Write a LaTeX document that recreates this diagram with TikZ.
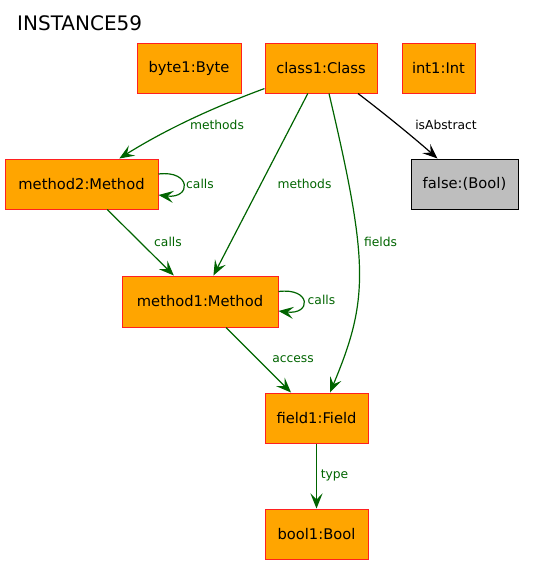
\documentclass[tikz,border=0pt]{standalone}
\usepackage{fontspec}
\setmainfont{DejaVu Sans}
\usetikzlibrary{arrows.meta}
\definecolor{nodeorange}{HTML}{FFA500}
\definecolor{nodered}{HTML}{FF2020}
\definecolor{edgegreen}{HTML}{006400}
\definecolor{boolgray}{HTML}{BEBEBE}
\tikzset{
  obj/.style={draw=nodered, fill=nodeorange, line width=1pt, inner sep=0pt,
    font=\fontsize{14.7}{16}\selectfont, text=black},
  val/.style={draw=black, fill=boolgray, line width=1pt, inner sep=0pt,
    font=\fontsize{14.7}{16}\selectfont, text=black},
  edge/.style={draw=edgegreen, line width=1.2pt,
    -{Stealth[length=15pt,width=12pt,inset=6pt]}},
  blackedge/.style={draw=black, line width=1.2pt,
    -{Stealth[length=15pt,width=12pt,inset=6pt]}},
  lbl/.style={font=\fontsize{12.3}{14}\selectfont, text=edgegreen, inner sep=0pt},
  blbl/.style={font=\fontsize{12.3}{14}\selectfont, text=black, inner sep=0pt},
}
\begin{document}
\begin{tikzpicture}[x=1pt,y=-1pt]
\useasboundingbox (0,0) rectangle (533,565);
\node[font=\fontsize{20}{22}\selectfont, anchor=base west, inner sep=0pt] (title) at (17,30) {INSTANCE59};

\node[obj, minimum width=104, minimum height=50] (byte1) at (189,68) {byte1:Byte};
\node[obj, minimum width=112, minimum height=50] (class1) at (321,68) {class1:Class};
\node[obj, minimum width=73, minimum height=50] (int1) at (438.5,68) {int1:Int};
\node[obj, minimum width=153, minimum height=50] (method2) at (81.5,184) {method2:Method};
\node[val, minimum width=107, minimum height=50] (false) at (464.5,184) {false:(Bool)};
\node[obj, minimum width=156, minimum height=51] (method1) at (200,301.5) {method1:Method};
\node[obj, minimum width=103, minimum height=50] (field1) at (316.5,418) {field1:Field};
\node[obj, minimum width=103, minimum height=50] (bool1) at (316.5,534) {bool1:Bool};

% class1 -> method2
\draw[edge] (class1.200) .. controls +(-60,22) and +(40,-25) .. (method2.34);
\node[lbl] (l1) at (217,125) {methods};

% method2 self loop
\draw[edge] ([shift={(0,-10)}]method2.east) .. controls +(33,-4) and +(33,4) .. ([shift={(0,11)}]method2.east);
\node[lbl] (l2) at (200,184) {calls};

% method2 -> method1
\draw[edge] (method2) -- (method1);
\node[lbl] (l3) at (168,242) {calls};

% class1 -> method1
\draw[edge] (class1) -- (method1);
\node[lbl] (l4) at (304.5,184) {methods};

% method1 self loop
\draw[edge] ([shift={(0,-10)}]method1.east) .. controls +(33,-4) and +(33,4) .. ([shift={(0,9.5)}]method1.east);
\node[lbl] (l5) at (321.5,299.5) {calls};

% class1 -> field1
\draw[edge] ([shift={(8,0)}]class1.south) .. controls +(40,170) and +(39,-93) .. ([shift={(13.5,0)}]field1.north);
\node[lbl] (l6) at (380.5,242) {fields};

% method1 -> field1
\draw[edge] (method1) -- (field1);
\node[lbl] (l7) at (293,359) {access};

% class1 -> false
\draw[blackedge] ([shift={(37,0)}]class1.south) .. controls +(25,19) and +(-25,-22) .. ([shift={(-27,0)}]false.north);
\node[blbl] (l8) at (446,125) {isAbstract};

% field1 -> bool1
\draw[edge] (field1) -- (bool1);
\node[lbl] (l9) at (334.5,475) {type};
\end{tikzpicture}
\end{document}
